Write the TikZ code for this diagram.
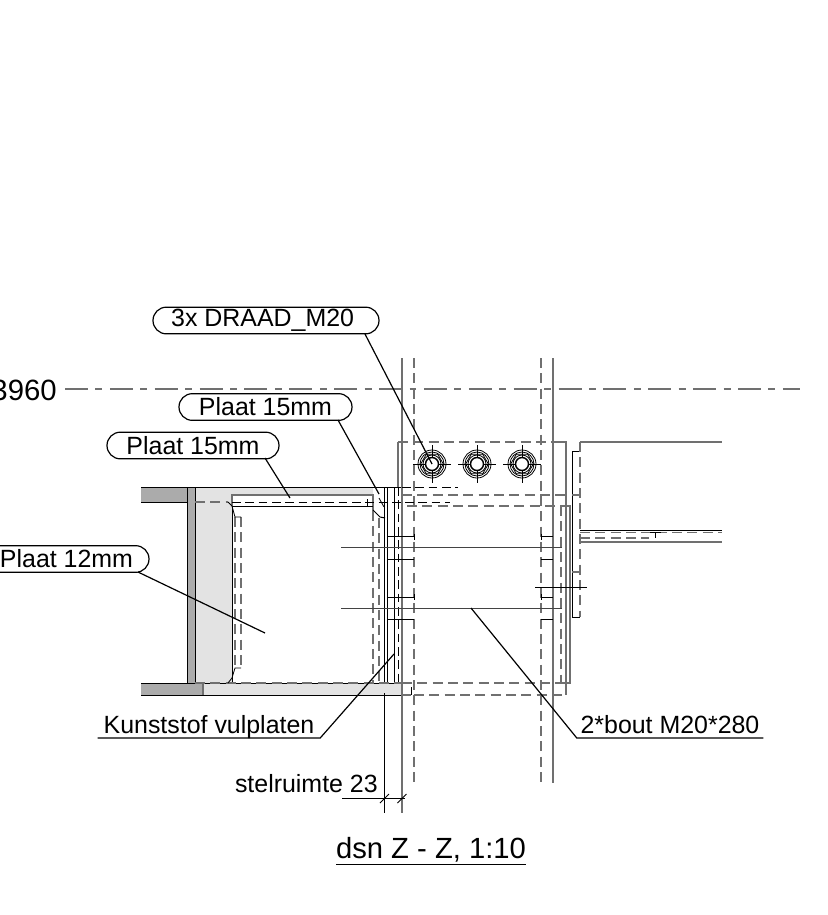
\documentclass[tikz,border=0pt]{standalone}
\usepackage{fontspec}
\setmainfont{Liberation Sans}
\usetikzlibrary{shapes.misc,shapes.geometric}
\definecolor{cutdark}{HTML}{ABABAB}
\definecolor{cutlight}{HTML}{E3E3E3}
\definecolor{edgegrey}{HTML}{707070}
\tikzset{
	steel/.style={line width=0.75pt, black},
	edge/.style={line width=1pt, edgegrey},
	thin steel/.style={line width=0.6pt, black},
	hidden/.style={line width=0.9pt, edgegrey, dash pattern=on 7.5pt off 4pt},
	hidden black/.style={line width=0.7pt, black, dash pattern=on 6.5pt off 3.5pt},
	centre/.style={line width=1pt, edgegrey, dash pattern=on 17.25pt off 5.6pt on 5.2pt off 5.6pt},
	leader/.style={line width=0.9pt, black},
	pill/.style={rounded rectangle, draw, line width=0.9pt, minimum height=20pt, inner sep=0pt, font=\fontsize{18.7}{18.7}\selectfont},
	underlined/.style={inner sep=0pt, anchor=base, text depth=3.5pt, font=\fontsize{18.7}{18.7}\selectfont},
}
\begin{document}
\begin{tikzpicture}[x=0.75pt, y=-0.75pt]
				\useasboundingbox (0,0) rectangle (828,915);
				
				% steel in section
				\fill[cutlight] (195,487) rectangle (232,683);
				\fill[cutlight] (232,487) rectangle (373,495);
				\fill[cutlight] (203,683) rectangle (402,695);
				\fill[cutdark] (141,487) rectangle (187,502);
				\fill[cutdark] (187,487) rectangle (195,683);
				\fill[cutdark] (141,683) rectangle (203,695);
				\draw[steel] (141,487) -- (402,487);
				\draw[steel] (141,502) -- (187,502);
				\draw[steel] (141,683) -- (402,683);
				\draw[steel] (141,695) -- (402,695);
				\draw[steel] (187,487) -- (187,683);
				\draw[steel] (195,487) -- (195,683);
				\draw[edge] (203,683) -- (203,695);
				\draw[edge] (232,506) -- (232,495) -- (373,495) -- (373,506);
				\draw[steel] (232,683) -- (232,506) -- (373,506);
				\draw[edge] (373,506) -- (373,511);
				
				% filler plates and column lines
				\draw[steel] (384,487) -- (384,683);
				\draw[thin steel] (387,487) -- (387,683);
				\draw[steel] (394,487) -- (394,683);
				\draw[edge] (398,442) -- (398,487);
				\draw[edge] (402,358) -- (402,813);
				\draw[edge] (553,358) -- (553,783);
				\draw[steel] (384,693) -- (384,813);
				\draw[hidden] (414,358) -- (414,785);
				\draw[hidden] (541,358) -- (541,785);
				\draw[hidden] (373,511) -- (373,683);
				\draw[hidden] (379,518) -- (379,683);
				\draw[hidden black] (398,487) -- (398,683);
				\draw[steel] (373,510) -- (380,517) -- (385,518);
				\draw[thin steel] (379,498) -- (384,507);
				
				% hidden lines of the plates
				\draw[hidden] (195,502) -- (228,502);
				\draw[hidden black] (232,502) -- (403,502);
				\draw[hidden] (402,495) -- (565,495);
				\draw[hidden] (407,506) -- (565,506);
				\draw[hidden black] (402,487) -- (458,487);
				\draw[hidden black] (405,502) -- (450,502);
				\draw[hidden] (398,442) -- (553,442);
				\draw[edge] (553,442) -- (566,442) -- (566,695);
				\draw[hidden] (195,683) -- (402,683);
				\draw[hidden] (402,683) -- (565,683);
				\draw[hidden] (414,695) -- (565,695);
				\draw[hidden] (402,695) -- (411,695);
				\draw[steel] (411,687) -- (411,695);
				
				% stiffener on the left
				\draw[hidden] (235,517) -- (235,668);
				\draw[hidden] (241,517) -- (241,668);
				\draw[thin steel] (232,506) -- (235,517) -- (241,517);
				\draw[thin steel] (232,678) -- (235,668) -- (241,668);
				\draw[thin steel] (228,502) -- (232,506);
				\draw[thin steel] (228,683) -- (232,678);
				\draw[thin steel] (367,499) -- (367,506) -- (373,506);
				
				% plate and beam on the right
				\draw[hidden] (561,506) -- (561,683);
				\draw[edge] (561,506) -- (570,506) -- (570,683) -- (566,683);
				\draw[steel] (580,451) -- (572,451) -- (572,617) -- (580,617);
				\draw[hidden] (580,442) -- (580,617);
				\draw[edge] (572,495) -- (580,495);
				\draw[edge] (572,572) -- (580,572);
				\draw[edge] (580,442) -- (722,442);
				\draw[steel] (580,530) -- (722,530);
				\draw[edge] (580,542) -- (722,542);
				\draw[hidden] (580,532.5) -- (722,532.5);
				\draw[hidden] (580,538) -- (649,538);
				\draw[thin steel] (650,532.5) -- (661,532.5);
				\draw[thin steel] (655.5,532.5) -- (655.5,538);
				
				% long bolts
				\draw[steel, edgegrey!60!black] (341,547.5) -- (562,547.5);
				\draw[steel, edgegrey!60!black] (341,608) -- (562,608);
				\foreach \boltY in {536.5,559,597,619} {
					\draw[thin steel] (387,\boltY) -- (414,\boltY);
					\draw[thin steel] (541,\boltY) -- (553,\boltY);
				}
				\foreach \boltY in {536.5,597} {
					\draw[thin steel] (414,\boltY-3) -- (414,\boltY+3);
					\draw[thin steel] (541,\boltY-3) -- (541,\boltY+3);
				}
				\draw[thin steel] (535,587) -- (587,587);
				
				% threaded rods
				\foreach \boltX/\boltName in {432/BoltA,477/BoltB,522/BoltC} {
					\node[regular polygon, regular polygon sides=6, draw, thin steel, minimum size=17pt, inner sep=0pt] (\boltName) at (\boltX,464) {};
					\draw[thin steel] (\boltName) circle[radius=14];
					\draw[thin steel] (\boltName) circle[radius=12];
					\draw[thin steel] (\boltName) circle[radius=9];
					\draw[line width=1.1pt] (\boltName) circle[radius=6.5];
					\draw[thin steel] (\boltX-19,464) -- (\boltX-6.5,464);
					\draw[thin steel] (\boltX+6.5,464) -- (\boltX+19,464);
					\draw[thin steel] (\boltX,464-19) -- (\boltX,464-6.5);
					\draw[thin steel] (\boltX,464+6.5) -- (\boltX,464+19);
				}
				
				% levels
				\node[anchor=east, inner sep=0pt, font=\fontsize{22}{22}\selectfont] (Level) at (57,390) {3960};
				\coordinate (LevelEnd) at (800,389);
				\draw[centre] (65,389) -- (LevelEnd);
				
				% callouts
				\node[pill, minimum width=169.5pt] (DraadLabel) at (266,320.5) {3x DRAAD\_M20\hspace*{5pt}};
				\node[pill, minimum width=129.75pt] (PlaatTop) at (265.5,407) {Plaat 15mm};
				\node[pill, minimum width=129pt] (PlaatMid) at (193,445.5) {Plaat 15mm};
				\node[pill, minimum width=123.75pt] (PlaatLow) at (66.5,559) {Plaat 12mm};
				\coordinate (DraadStart) at (365,334);
				\coordinate (TopStart) at (338,420);
				\coordinate (MidStart) at (265,458);
				\coordinate (LowStart) at (138,572);
				\coordinate (TopEnd) at (379,494);
				\coordinate (MidEnd) at (290,498);
				\coordinate (LowEnd) at (265,633);
				\draw[leader] (DraadStart) -- (BoltA.center);
				\draw[leader] (TopStart) -- (TopEnd);
				\draw[leader] (MidStart) -- (MidEnd);
				\draw[leader] (LowStart) -- (LowEnd);
				
				\node[underlined, minimum width=166.5pt] (VulLabel) at (209,733) {Kunststof vulplaten};
				\coordinate (VulEnd) at (394,654);
				\draw[leader] (VulLabel.south west) -- (VulLabel.south east) -- (VulEnd);
				\node[underlined, minimum width=139.5pt] (BoutLabel) at (670,733) {2*bout M20*280};
				\coordinate (BoutEnd) at (471,608);
				\draw[leader] (BoutEnd) -- (BoutLabel.south west) -- (BoutLabel.south east);
				
				\node[underlined, anchor=base east] (StelLabel) at (378,792) {stelruimte 23};
				\coordinate (StelA) at (342,798);
				\coordinate (StelB) at (384.5,798.5);
				\coordinate (StelC) at (402,798.5);
				\coordinate (StelD) at (405,798);
				\draw[steel] (StelA) -- (StelD);
				\foreach \tickAt in {StelB,StelC} {
					\draw[thin steel] (\tickAt) ++(-4.5,4.5) -- ++(9,-9);
				}
				
				\node[inner sep=0pt, anchor=base, font=\fontsize{21.9}{21.9}\selectfont] (TitleLabel) at (431,858) {dsn Z - Z, 1:10};
				\coordinate (TitleA) at (336,864.5);
				\coordinate (TitleB) at (526,864.5);
				\draw[line width=1.1pt] (TitleA) -- (TitleB);
				
			\end{tikzpicture}
\end{document}
